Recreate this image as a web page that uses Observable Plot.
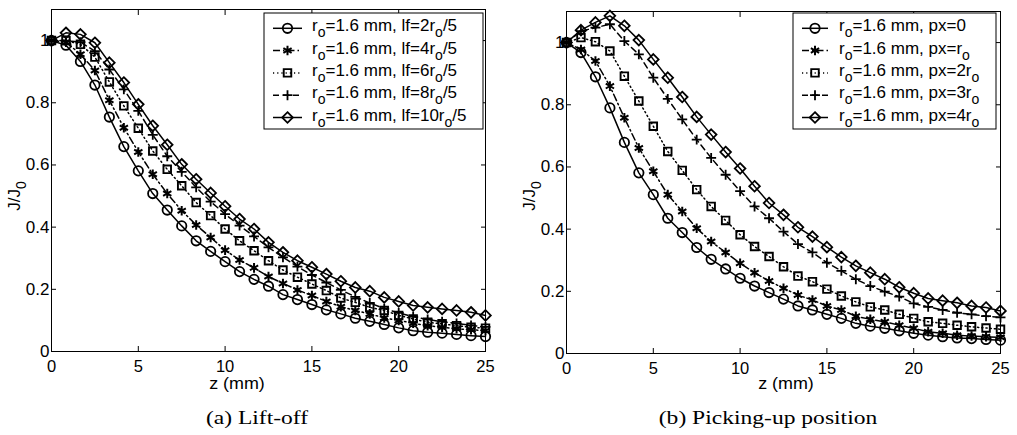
<!DOCTYPE html>
<html>
<head>
<meta charset="utf-8">
<script src="https://cdn.jsdelivr.net/npm/d3@7"></script>
<script src="https://cdn.jsdelivr.net/npm/@observablehq/plot@0.6"></script>
<style>
  html, body { margin: 0; padding: 0; background: #fff; }
  #wrap { position: relative; width: 1017px; height: 435px; overflow: hidden; background: #fff; }
  .panel { position: absolute; top: 0; }
  #overlay { position: absolute; left: 0; top: 0; pointer-events: none; }
</style>
</head>
<body>
<div id="wrap">
  <div id="left" class="panel" style="left:0px"></div>
  <div id="right" class="panel" style="left:508px"></div>
</div>
<script>
// ---------- data ----------
const z = [0, 0.833, 1.667, 2.5, 3.333, 4.167, 5, 5.833, 6.667, 7.5, 8.333, 9.167, 10, 10.833, 11.667,
  12.5, 13.333, 14.167, 15, 15.833, 16.667, 17.5, 18.333, 19.167, 20, 20.833, 21.667, 22.5, 23.333, 24.167, 25];

const xTicks = [0, 5, 10, 15, 20, 25];
const yTicks = [0, 0.2, 0.4, 0.6, 0.8, 1];

// (a) Lift-off
const liftLf2  = [1, .985, .933, .857, .754, .659, .581, .508, .455, .404, .356, .322, .289, .257, .232, .21, .183, .167, .151, .134, .121, .107, .097, .087, .076, .067, .062, .059, .055, .051, .048];
const liftLf4  = [1, .995, .956, .904, .808, .72, .642, .57, .508, .453, .407, .367, .326, .294, .269, .241, .219, .198, .18, .161, .144, .132, .121, .108, .1, .091, .083, .078, .073, .07, .067];
const liftLf6  = [1, 1.0, .988, .947, .867, .79, .718, .645, .586, .533, .479, .437, .394, .356, .324, .292, .262, .239, .217, .196, .172, .158, .142, .132, .116, .105, .094, .089, .083, .078, .075];
const liftLf8  = [1, 1.0, .995, .966, .907, .843, .774, .697, .628, .578, .528, .482, .442, .405, .37, .335, .303, .273, .246, .222, .198, .176, .156, .138, .124, .112, .103, .096, .09, .084, .079];
const liftLf10 = [1, 1.025, 1.02, .993, .929, .865, .795, .726, .665, .602, .554, .51, .467, .426, .394, .351, .319, .292, .271, .249, .226, .206, .194, .174, .161, .148, .142, .137, .132, .126, .116];

// (b) Picking-up position
const pickPx0 = [1, .968, .89, .79, .679, .581, .511, .435, .389, .341, .303, .272, .242, .217, .196, .175, .153, .14, .126, .113, .097, .088, .081, .073, .065, .059, .054, .05, .048, .045, .043];
const pickPx1 = [1, .978, .941, .86, .758, .661, .586, .511, .457, .403, .36, .325, .29, .26, .233, .21, .188, .172, .153, .14, .12, .11, .102, .091, .081, .07, .065, .059, .056, .054, .052];
const pickPx2 = [1, 1.016, 1.003, .973, .892, .812, .731, .65, .589, .527, .473, .428, .382, .344, .312, .279, .249, .231, .207, .185, .166, .15, .14, .126, .113, .102, .097, .091, .086, .082, .078];
const pickPx3 = [1, 1.037, 1.048, 1.059, 1.005, .962, .887, .819, .753, .688, .629, .575, .522, .473, .435, .392, .352, .325, .292, .266, .239, .217, .199, .183, .161, .15, .14, .131, .126, .12, .116];
const pickPx4 = [1, 1.04, 1.065, 1.086, 1.054, 1.008, .946, .887, .825, .761, .704, .648, .595, .538, .484, .446, .406, .376, .342, .31, .282, .26, .239, .213, .194, .177, .17, .163, .153, .148, .137];

// legend labels: segments [text, isSubscript]
const liftLabels = ["2", "4", "6", "8", "10"].map(n => [["r", 0], ["o", 1], ["=1.6 mm, lf=" + n + "r", 0], ["o", 1], ["/5", 0]]);
const pickLabels = [
  [["r", 0], ["o", 1], ["=1.6 mm, px=0", 0]],
  [["r", 0], ["o", 1], ["=1.6 mm, px=r", 0], ["o", 1]],
  [["r", 0], ["o", 1], ["=1.6 mm, px=2r", 0], ["o", 1]],
  [["r", 0], ["o", 1], ["=1.6 mm, px=3r", 0], ["o", 1]],
  [["r", 0], ["o", 1], ["=1.6 mm, px=4r", 0], ["o", 1]]
];

// ---------- styles ----------
const seriesStyles = [
  {symbol: "circle",   r: 4.7, sw: 1.8, dash: null},
  {symbol: "asterisk", r: 4.5, sw: 2.0, dash: "7,3,1.5,3"},
  {symbol: "square2",  r: 4.8, sw: 1.9, dash: "1.2,3"},
  {symbol: "plus",     r: 3.3, sw: 1.8, dash: "6,4"},
  {symbol: "diamond2", r: 4.8, sw: 1.8, dash: null}
];
const d3Sym = {circle: d3.symbolCircle, asterisk: d3.symbolAsterisk, square2: d3.symbolSquare2, plus: d3.symbolPlus, diamond2: d3.symbolDiamond2};
const FONT = "'Liberation Sans', Arial, Helvetica, sans-serif";
const SERIF = "'Liberation Serif', 'Times New Roman', serif";

function fmt(d) { return d === 0 ? "0" : d === 1 ? "1" : d3.format(".1f")(d); }

function drawPanel(el, series, labels, cfg) {
  const marks = [];
  series.forEach((vals, i) => {
    const st = seriesStyles[i];
    const data = z.map((zz, j) => ({z: zz, v: vals[j]}));
    marks.push(Plot.line(data, {x: "z", y: "v", stroke: "black", strokeWidth: 1.5, strokeDasharray: st.dash}));
    marks.push(Plot.dot(data, {x: "z", y: "v", symbol: st.symbol, r: st.r, stroke: "black", strokeWidth: st.sw, fill: "none"}));
  });
  marks.push(
    Plot.frame({stroke: "black", strokeWidth: 1}),
    Plot.axisX({anchor: "bottom", ticks: xTicks, tickSize: -5, tickPadding: 14, fontSize: 16.5, label: null, tickFormat: d => String(d)}),
    Plot.axisX({anchor: "top", ticks: xTicks, tickSize: -5, label: null, tickFormat: () => ""}),
    Plot.axisY({anchor: "left", ticks: yTicks, tickSize: -5, tickPadding: 7, fontSize: 17, label: null, tickFormat: fmt}),
    Plot.axisY({anchor: "right", ticks: yTicks, tickSize: -5, label: null, tickFormat: () => ""})
  );
  const svg = Plot.plot({
    width: cfg.width, height: 395,
    marginLeft: cfg.ml, marginRight: cfg.mr, marginTop: cfg.mt, marginBottom: cfg.mb,
    x: {domain: [0, 25]},
    y: {domain: [0, 1.1]},
    style: {fontFamily: FONT, fontSize: "16px", color: "black", background: "white", overflow: "visible"},
    marks
  });
  el.appendChild(svg);

  // legend (guide drawn in pixel space)
  const s = d3.select(svg);
  const lg = s.append("g").attr("text-anchor", "start");
  const L = cfg.legend;
  lg.append("rect").attr("x", L.x0).attr("y", L.y0).attr("width", L.x1 - L.x0).attr("height", L.y1 - L.y0)
    .attr("fill", "white").attr("stroke", "black").attr("stroke-width", 1);
  labels.forEach((segs, i) => {
    const st = seriesStyles[i];
    const y = L.row0 + i * L.step;
    lg.append("line").attr("x1", L.lx0).attr("x2", L.lx1).attr("y1", y).attr("y2", y)
      .attr("stroke", "black").attr("stroke-width", 1.5).attr("stroke-dasharray", st.dash);
    lg.append("path").attr("transform", `translate(${(L.lx0 + L.lx1) / 2},${y})`)
      .attr("d", d3.symbol(d3Sym[st.symbol], Math.PI * st.r * st.r)())
      .attr("fill", "none").attr("stroke", "black").attr("stroke-width", st.sw);
    const t = lg.append("text").attr("x", L.tx).attr("y", y + 3).attr("text-anchor", "start")
      .attr("font-family", FONT).attr("font-size", 17).attr("fill", "black");
    let sub = 0;
    segs.forEach(([txt, isSub]) => {
      const dy = isSub && !sub ? 6 : (!isSub && sub ? -6 : 0);
      t.append("tspan").attr("dy", dy).attr("font-size", isSub ? 14 : 17).text(txt);
      sub = isSub;
    });
  });
  return svg;
}

drawPanel(document.getElementById("left"), [liftLf2, liftLf4, liftLf6, liftLf8, liftLf10], liftLabels,
  {width: 508, ml: 51, mr: 23, mt: 9, mb: 44,
   legend: {x0: 264, x1: 483, y0: 13, y1: 129, row0: 28.3, step: 22.3, lx0: 273, lx1: 302, tx: 312}});
drawPanel(document.getElementById("right"), [pickPx0, pickPx1, pickPx2, pickPx3, pickPx4], pickLabels,
  {width: 509, ml: 58, mr: 17, mt: 11, mb: 42,
   legend: {x0: 285, x1: 488, y0: 13, y1: 129, row0: 28.3, step: 22.3, lx0: 294, lx1: 320, tx: 331}});

// ---------- axis labels and captions ----------
const ov = d3.select("#wrap").append("svg").attr("id", "overlay").attr("width", 1017).attr("height", 435);
function xlab(x) {
  ov.append("text").attr("transform", `translate(${x},389) scale(1.12,1)`).attr("text-anchor", "middle")
    .attr("font-family", FONT).attr("font-size", 16).text("z (mm)");
}
function ylab(x, y) {
  const t = ov.append("text").attr("transform", `translate(${x},${y}) rotate(-90)`).attr("text-anchor", "middle")
    .attr("font-family", FONT).attr("font-size", 17);
  t.append("tspan").text("J/J");
  t.append("tspan").attr("dy", 6).attr("font-size", 14).text("0");
}
function caption(x, txt) {
  ov.append("text").attr("transform", `translate(${x},424) scale(1.24,1)`).attr("text-anchor", "middle")
    .attr("font-family", SERIF).attr("font-size", 19).text(txt);
}
xlab(237); xlab(786);
ylab(20, 196); ylab(535, 196);
caption(257, "(a) Lift-off");
caption(768, "(b) Picking-up position");
</script>
</body>
</html>
